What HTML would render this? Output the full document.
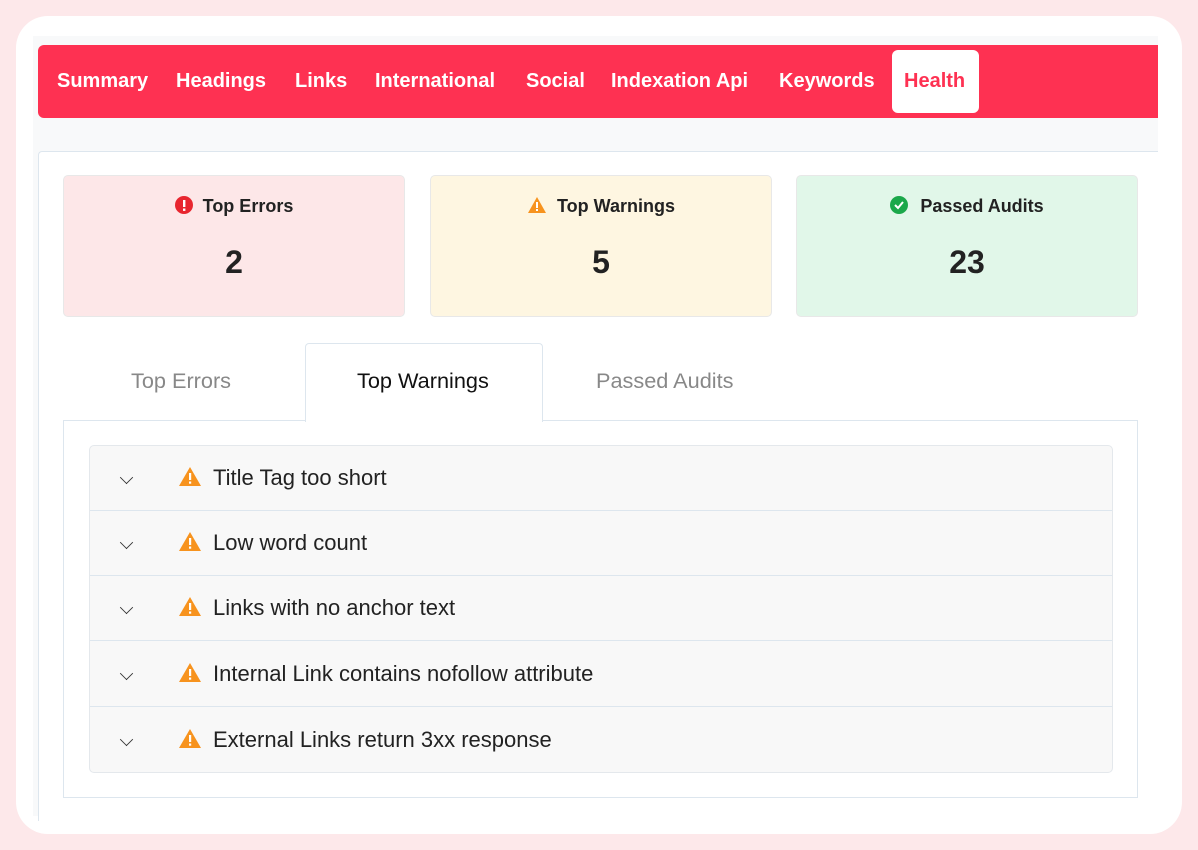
<!DOCTYPE html>
<html><head><style>
*{box-sizing:border-box;margin:0;padding:0}
body{width:1198px;height:850px;background:#fde8ea;font-family:"Liberation Sans",Arial,sans-serif;position:relative;overflow:hidden}
.frame{position:absolute;left:16px;top:16px;width:1166px;height:818px;background:#fff;border-radius:32px}
.gray{position:absolute;left:33px;top:36px;width:1125px;height:780px;background:#f8f9fa}
.nav{position:absolute;left:38px;top:45px;width:1120px;height:73px;background:#fe3152;border-radius:6px 0 0 6px}
.nav span{position:absolute;top:25px;color:#fff;font-weight:bold;font-size:20px}
.pill{position:absolute;left:892px;top:50px;width:87px;height:63px;background:#fff;border-radius:6px}
.card{position:absolute;left:38px;top:151px;width:1120px;height:670px;background:#fff;border-top:1px solid #dde6ee;border-left:1px solid #dde6ee;border-radius:4px 0 0 0}
.stat{position:absolute;top:175px;width:342px;height:142px;border-radius:5px;border:1px solid #e8e8e8;text-align:center}
.stat .t{position:absolute;top:20px;left:0;right:0;font-weight:bold;font-size:18px;color:#222}
.stat .n{position:absolute;top:68px;left:0;right:0;font-weight:bold;font-size:32px;color:#222}
.tab{position:absolute;top:368px;font-size:21.7px;color:#888}
.panel{position:absolute;left:63px;top:420px;width:1075px;height:378px;border:1px solid #dde6ee}
.acc{position:absolute;left:89px;top:445px;width:1024px;height:328px;background:#f8f8f8;border:1px solid #e4e8ec;border-radius:5px}
.row{position:absolute;left:0;width:1022px;height:65px;border-bottom:1px solid #dde6ee}
.row .c{position:absolute;left:31px;top:26px;width:11px;height:11px;border-right:1.5px solid #333;border-bottom:1.5px solid #333;transform:rotate(45deg) scale(.85,.85)}
.row .w{position:absolute;left:88px;top:20px}
.row .l{position:absolute;left:123px;top:19px;font-size:22px;color:#222}
</style></head><body>
<div class="frame"></div>
<div class="gray"></div>
<div class="nav">
<span style="left:19px">Summary</span>
<span style="left:138px">Headings</span>
<span style="left:257px">Links</span>
<span style="left:337px">International</span>
<span style="left:488px">Social</span>
<span style="left:573px">Indexation Api</span>
<span style="left:741px">Keywords</span>
</div>
<div class="pill"></div>
<span style="position:absolute;left:904px;top:70px;color:#fe3152;font-weight:bold;font-size:20px">Health</span>
<div class="card"></div>
<div class="stat" style="left:63px;background:#fde7e8"><div class="t"><svg width="18" height="18" style="vertical-align:-2px;margin-right:10px"><circle cx="9" cy="9" r="9" fill="#e8262f"/><rect x="8" y="4" width="2.4" height="7" fill="#fff"/><rect x="8" y="12.5" width="2.4" height="2.4" fill="#fff"/></svg>Top Errors</div><div class="n">2</div></div>
<div class="stat" style="left:430px;background:#fef6e1"><div class="t"><svg width="20" height="18" style="vertical-align:-2px;margin-right:10px"><path d="M10 1L19 17H1Z" fill="#f7931e"/><rect x="9" y="6" width="2" height="6" fill="#fff"/><rect x="9" y="13" width="2" height="2" fill="#fff"/></svg>Top Warnings</div><div class="n">5</div></div>
<div class="stat" style="left:796px;background:#e1f7e9"><div class="t"><svg width="18" height="18" style="vertical-align:-2px;margin-right:12px"><circle cx="9" cy="9" r="9" fill="#1aa84a"/><path d="M5 9l3 3 5-6" stroke="#fff" stroke-width="2" fill="none"/></svg>Passed Audits</div><div class="n">23</div></div>
<div style="position:absolute;left:305px;top:343px;width:238px;height:79px;background:#fff;border:1px solid #dde6ee;border-bottom:none;border-radius:4px 4px 0 0;z-index:2"></div>
<div class="panel"></div>
<span class="tab" style="left:131px">Top Errors</span>
<span class="tab" style="left:357px;color:#111;z-index:3">Top Warnings</span>
<span class="tab" style="left:596px">Passed Audits</span>
<div class="acc">
<div class="row" style="top:0"><div class="c"></div><svg class="w" width="24" height="22"><path d="M12 1L23 20H1Z" fill="#f7931e"/><rect x="11" y="7" width="2.2" height="7" fill="#fff"/><rect x="11" y="15.5" width="2.2" height="2.2" fill="#fff"/></svg><span class="l">Title Tag too short</span></div>
<div class="row" style="top:65px"><div class="c"></div><svg class="w" width="24" height="22"><path d="M12 1L23 20H1Z" fill="#f7931e"/><rect x="11" y="7" width="2.2" height="7" fill="#fff"/><rect x="11" y="15.5" width="2.2" height="2.2" fill="#fff"/></svg><span class="l">Low word count</span></div>
<div class="row" style="top:130px"><div class="c"></div><svg class="w" width="24" height="22"><path d="M12 1L23 20H1Z" fill="#f7931e"/><rect x="11" y="7" width="2.2" height="7" fill="#fff"/><rect x="11" y="15.5" width="2.2" height="2.2" fill="#fff"/></svg><span class="l">Links with no anchor text</span></div>
<div class="row" style="top:196px"><div class="c"></div><svg class="w" width="24" height="22"><path d="M12 1L23 20H1Z" fill="#f7931e"/><rect x="11" y="7" width="2.2" height="7" fill="#fff"/><rect x="11" y="15.5" width="2.2" height="2.2" fill="#fff"/></svg><span class="l">Internal Link contains nofollow attribute</span></div>
<div class="row" style="top:262px;border-bottom:none"><div class="c"></div><svg class="w" width="24" height="22"><path d="M12 1L23 20H1Z" fill="#f7931e"/><rect x="11" y="7" width="2.2" height="7" fill="#fff"/><rect x="11" y="15.5" width="2.2" height="2.2" fill="#fff"/></svg><span class="l">External Links return 3xx response</span></div>
</div>
</body></html>
